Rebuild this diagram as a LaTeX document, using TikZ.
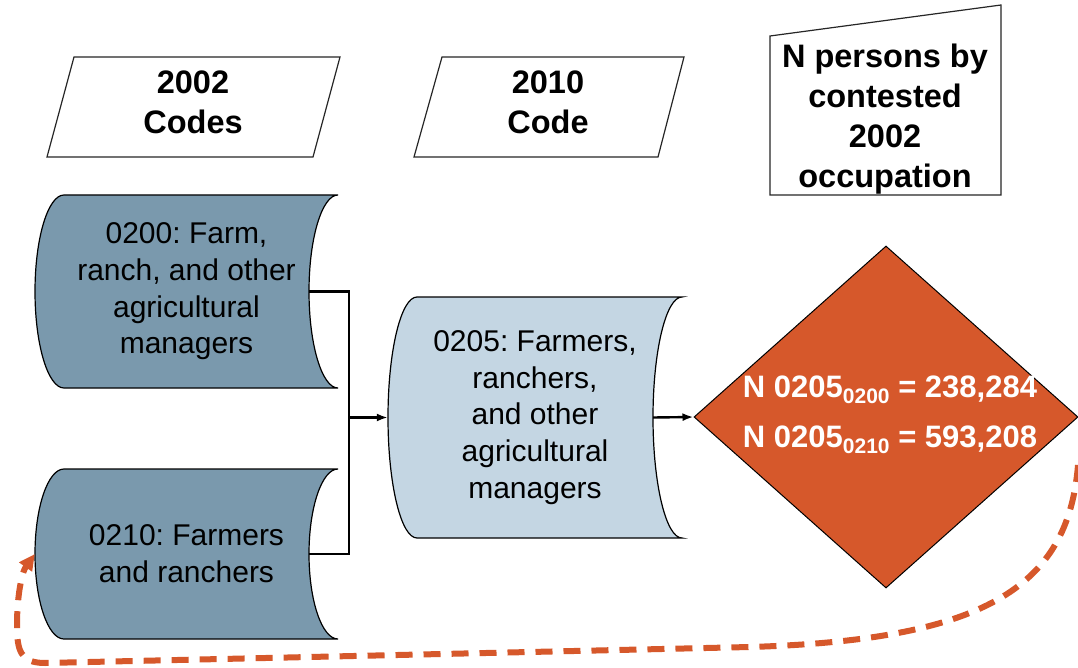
\documentclass[tikz,border=0pt]{standalone}
\usepackage{fontspec}
\setmainfont{Liberation Sans}
\usetikzlibrary{shapes.geometric,arrows.meta,calc}
\definecolor{darkslate}{RGB}{122,153,173}
\definecolor{lightslate}{RGB}{196,214,227}
\definecolor{rust}{RGB}{214,88,43}
\frenchspacing
\newcommand\lowsub[1]{\raisebox{-6pt}{\fontsize{21}{21}\selectfont #1}}
% stored-data outline: left, top, right, bottom, bulge, fill colour
\newcommand\storedpath[6]{%
 \draw[line width=1.2pt, fill=#6] ({#1+#5},#2) -- (#3,#2)
   .. controls ({#3-#5*0.5523},#2) and ({#3-#5},{(#2+#4)/2-(#4-#2)/2*0.5523}) .. ({#3-#5},{(#2+#4)/2})
   .. controls ({#3-#5},{(#2+#4)/2+(#4-#2)/2*0.5523}) and ({#3-#5*0.5523},#4) .. (#3,#4)
   -- ({#1+#5},#4)
   .. controls ({#1+#5-#5*0.5523},#4) and (#1,{(#2+#4)/2+(#4-#2)/2*0.5523}) .. (#1,{(#2+#4)/2})
   .. controls (#1,{(#2+#4)/2-(#4-#2)/2*0.5523}) and ({#1+#5-#5*0.5523},#2) .. ({#1+#5},#2) -- cycle;}
\begin{document}
\begin{tikzpicture}[x=1pt,y=-1pt,
  frame/.style={draw=black!85, line width=1.2pt, fill=white},
  headtext/.style={font=\bfseries\fontsize{32.5}{40}\selectfont, align=center, inner sep=0pt, text=black},
  bodytext/.style={font=\fontsize{30}{36.7}\selectfont, align=center, inner sep=0pt, text=black},
  diatext/.style={font=\bfseries\fontsize{31}{50}\selectfont, align=center, inner sep=0pt, text=white},
  conn/.style={draw=black, line width=2.4pt},
  tip/.style={-{Latex[length=11pt,width=8pt]}}]
\useasboundingbox (0,0) rectangle (1078,668);

% header shapes
\draw[frame] (74,57) -- (340,57) -- (313,157) -- (47,157) -- cycle;
\node[headtext] (h2002) at (193,102) {2002\\Codes};
\draw[frame] (442,57) -- (684,57) -- (658,157) -- (414,157) -- cycle;
\node[headtext] (h2010) at (548,102) {2010\\Code};
\draw[frame] (770,36) -- (1001,5) -- (1001,195) -- (770,195) -- cycle;
\node[headtext] (hN) at (885,119) {N persons by\\contested\\2002\\occupation};

% stored data shapes
\storedpath{35}{195}{338}{388}{29}{darkslate}
\node[bodytext, minimum width=303pt, minimum height=193pt] (c0200) at (186.5,291.5)
  {0200: Farm,\\ranch, and other\\agricultural\\managers};
\storedpath{35}{469}{338}{639}{29}{darkslate}
\node[bodytext, minimum width=303pt, minimum height=170pt] (c0210) at (186.5,554)
  {0210: Farmers\\and ranchers};
\storedpath{388}{297}{682}{538}{29}{lightslate}
\node[bodytext, minimum width=294pt, minimum height=241pt] (c0205) at (535,417.5)
  {0205: Farmers,\\ranchers,\\and other\\agricultural\\managers};

% decision diamond
\node[diamond, draw=black, fill=rust, line width=1pt, minimum width=384pt, minimum height=342pt, inner sep=0pt] (dia) at (886,417) {};
\node[diatext] (ntext) at (890,415)
  {N 0205\lowsub{0200} = 238,284\\N 0205\lowsub{0210} = 593,208};

% connectors
\coordinate (junc) at (349,417.5);
\draw[conn] ($(c0200.east)+(-29,0)$) -| (junc) |- ($(c0210.east)+(-29,0)$);
\draw[conn, tip] (junc) -- (c0205.west);
\draw[conn, tip] ($(c0205.east)+(-29,0)$) -- (dia.west);

% dashed feedback loop
\coordinate (loopstart) at (1078,465);
\draw[rust, line width=6pt, dash pattern=on 17pt off 11pt, -{Triangle[length=16pt,width=15pt]}]
  (loopstart) .. controls (1068,590) and (980,640) .. (750,647)
  -- (45,663) .. controls (20,663) and (17,650) .. (17,625)
  .. controls (17,595) and (22,572) .. (c0210.west);
\end{tikzpicture}
\end{document}
